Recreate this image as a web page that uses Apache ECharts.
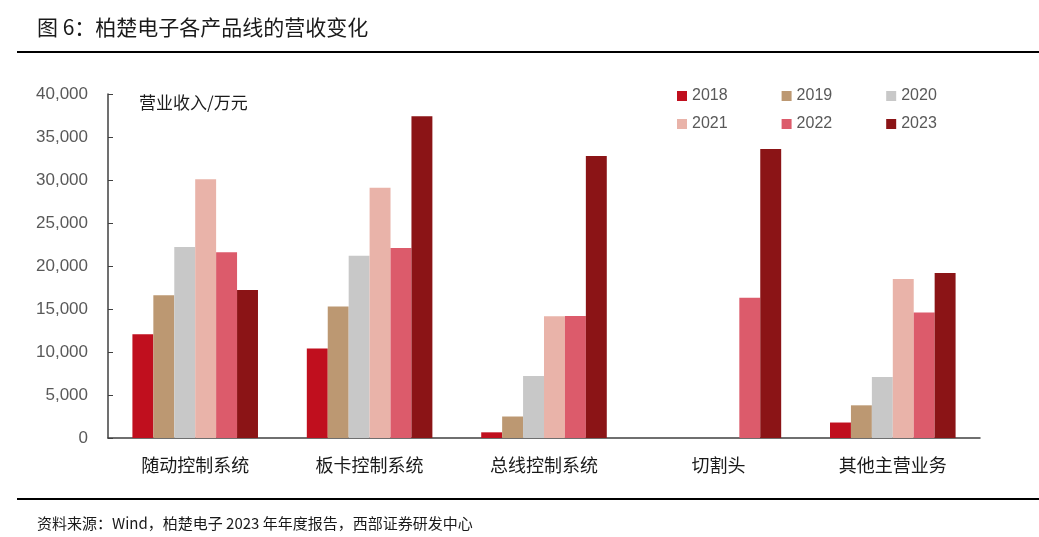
<!DOCTYPE html>
<html><head><meta charset="utf-8">
<script src="https://cdn.jsdelivr.net/npm/echarts@6/dist/echarts.min.js"></script>
<style>html,body{margin:0;padding:0;background:#fff}#c{width:1039px;height:537px}</style>
</head><body><div id="c"></div>
<script>
const categories = ['随动控制系统','板卡控制系统','总线控制系统','切割头','其他主营业务'];
const years = ['2018','2019','2020','2021','2022','2023'];
const v2018 = [12050, 10400, 660, null, 1800];
const v2019 = [16600, 15300, 2500, null, 3800];
const v2020 = [22200, 21200, 7200, null, 7100];
const v2021 = [30100, 29100, 14150, null, 18500];
const v2022 = [21600, 22100, 14200, 16300, 14600];
const v2023 = [17200, 37400, 32800, 33600, 19200];
const yTicks = [0, 5000, 10000, 15000, 20000, 25000, 30000, 35000, 40000];
const colors = ['#C00F1E','#BC9872','#C8C8C8','#E9B3A9','#DC5B6B','#8B1416'];
const allValues = [v2018, v2019, v2020, v2021, v2022, v2023];

const chart = echarts.init(document.getElementById('c'));
const legendText = {color:'#595959', fontSize:16, fontFamily:'Liberation Sans, Arial, sans-serif'};
chart.setOption({
  animation:false,
  color: colors,
  title: [
    {text:'图 6：柏楚电子各产品线的营收变化', left:32, top:12,
     textStyle:{fontSize:21, fontWeight:'normal', color:'#1a1a1a', fontFamily:'Noto Sans CJK SC'}},
    {text:'资料来源：Wind，柏楚电子 2023 年年度报告，西部证券研发中心', left:32, top:511,
     textStyle:{fontSize:15, fontWeight:'normal', color:'#1a1a1a', fontFamily:'Noto Sans CJK SC'}},
    {text:'营业收入/万元', left:134, top:89,
     textStyle:{fontSize:17, fontWeight:'normal', color:'#1a1a1a', fontFamily:'Noto Sans CJK SC'}}
  ],
  graphic: [
    {type:'line', shape:{x1:17,y1:52,x2:1039,y2:52}, style:{stroke:'#000', lineWidth:2}},
    {type:'line', shape:{x1:17,y1:499,x2:1039,y2:499}, style:{stroke:'#000', lineWidth:2}}
  ],
  legend: [
    {data: years.slice(0,3), left:677, top:88, itemWidth:10, itemHeight:10, itemGap:54, icon:'rect', textStyle:legendText, padding:0},
    {data: years.slice(3,6), left:677, top:116, itemWidth:10, itemHeight:10, itemGap:54, icon:'rect', textStyle:legendText, padding:0}
  ],
  grid: {left:108, right:59, top:94, bottom:99},
  xAxis: {
    type:'category', data: categories,
    axisLine:{lineStyle:{color:'#404040', width:1.5}},
    axisTick:{show:false},
    axisLabel:{color:'#1a1a1a', fontSize:18, margin:18, fontFamily:'Noto Sans CJK SC'}
  },
  yAxis: {
    type:'value', min: yTicks[0], max: yTicks[yTicks.length-1], interval: 5000,
    axisLine:{show:true, lineStyle:{color:'#404040', width:1.5}},
    axisTick:{show:true, inside:true, length:5, lineStyle:{color:'#404040'}},
    splitLine:{show:false},
    axisLabel:{color:'#595959', fontSize:17, margin:20, fontFamily:'Liberation Sans, Arial, sans-serif',
      formatter: v => v.toLocaleString('en-US')}
  },
  series: years.map((y,i) => ({
    name:y, type:'bar', data: allValues[i], barGap:'0%', barCategoryGap:'28%',
    itemStyle:{color:colors[i]}
  }))
});
</script></body></html>
